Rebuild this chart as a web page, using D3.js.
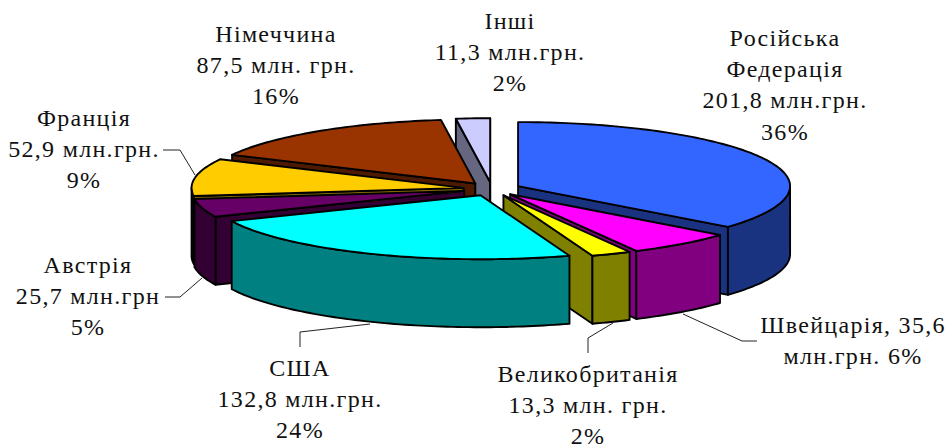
<!DOCTYPE html>
<html>
<head>
<meta charset="utf-8">
<style>
    html, body { margin: 0; padding: 0; background: white; }
    text { font-family: "Liberation Serif", serif; font-size: 24px; letter-spacing: 1.3px; fill: #111; }
</style>
<script src="https://cdn.jsdelivr.net/npm/d3@7"></script>
</head>
<body>
<div id="canvas"></div>
<script>
"use strict"

let svgWidth = 947
let svgHeight = 447

/* Export values, clockwise from 12 o'clock */
let countries = ["Російська Федерація", "Швейцарія", "Великобританія", "США", "Австрія", "Франція", "Німеччина", "Інші"]
let values = [201.8, 35.6, 13.3, 132.8, 25.7, 52.9, 87.5, 11.3]
let topColors = ["#3366ff", "#ff00ff", "#ffff00", "#00ffff", "#660066", "#ffcc00", "#993300", "#ccccff"]
let sideColors = ["#1a3380", "#800080", "#808000", "#008080", "#330033", "#806600", "#4d1a00", "#666680"]
let rimColors = ["#1a3380", "#800080", "#808000", "#008080", "#330033", "#111111", "#4d1a00", "#666680"]
let labelLines = [
    ["Російська", "Федерація", "201,8 млн.грн.", "36%"],
    ["Швейцарія, 35,6", "млн.грн. 6%"],
    ["Великобританія", "13,3 млн. грн.", "2%"],
    ["США", "132,8 млн.грн.", "24%"],
    ["Австрія", "25,7 млн.грн", "5%"],
    ["Франція", "52,9 млн.грн.", "9%"],
    ["Німеччина", "87,5 млн. грн.", "16%"],
    ["Інші", "11,3 млн.грн.", "2%"]
]

/* Pie geometry */
let centerX = 492
let centerY = 189
let radiusX = 272
let radiusY = 64
let depth = 68
let explode = 0.106 // every slice is pulled out by the same amount

/* Label position: centre x and first baseline */
let labelPos = [
    [785, 46], [853, 333], [588, 382], [300, 376], [88, 273], [84, 126], [276, 42], [510, 29]
]
let lineGap = 31.2

/* Leader lines, one per labelled slice that has one */
let leaders = [
    [[683, 314], [742, 341], [757, 341]],
    [[613, 323], [588, 338], [588, 353]],
    [[370, 324], [300, 332], [300, 347]],
    [[202, 278], [180, 297], [165, 297]],
    [[195, 175], [180, 150], [163, 150]]
]

/* back to front */
let drawOrder = [7, 6, 0, 5, 4, 1, 2, 3]

let svg = d3.select("#canvas")
    .append("svg")
    .attr("width", svgWidth)
    .attr("height", svgHeight)
    .style("display", "block")

/* Scales: unit circle to the flattened ellipse */
let xScale = d3.scaleLinear()
    .domain([-1, 1])
    .range([centerX - radiusX, centerX + radiusX])

let yScale = d3.scaleLinear()
    .domain([-1, 1])
    .range([centerY + radiusY, centerY - radiusY]) //flipped for SVG

let pie = d3.pie()
    .sort(null)
    .value(function (d) { return d })

let slices = pie(values)

let line = d3.line()

/* point of a slice at angle a, at distance r from its own apex */
function point(s, a, r, drop) {
    let mid = (s.startAngle + s.endAngle) / 2
    let ux = explode * Math.sin(mid) + r * Math.sin(a)
    let uy = explode * Math.cos(mid) + r * Math.cos(a)
    return [xScale(ux), yScale(uy) + drop]
}

function arcPoints(s, a0, a1, drop) {
    let n = Math.max(2, Math.ceil((a1 - a0) / 0.02))
    return d3.range(n + 1).map(function (i) {
        return point(s, a0 + (a1 - a0) * i / n, 1, drop)
    })
}

function drawShape(pts, fill) {
    svg.append("path")
        .attr("d", line(pts) + "Z")
        .attr("fill", fill)
        .attr("stroke", "black")
        .attr("stroke-width", 1.9)
        .attr("stroke-linejoin", "round")
}

function radialWall(s, a, fill) {
    drawShape([
        point(s, a, 0, 0),
        point(s, a, 1, 0),
        point(s, a, 1, depth),
        point(s, a, 0, depth)
    ], fill)
}

drawOrder.forEach(function (i) {
    let s = slices[i]

    /* cut faces that look towards the viewer */
    if (Math.sin(s.startAngle) < 0) radialWall(s, s.startAngle, sideColors[i])
    if (Math.sin(s.endAngle) > 0) radialWall(s, s.endAngle, sideColors[i])

    /* outer wall, only the front half of the ellipse */
    let a0 = Math.max(s.startAngle, Math.PI / 2)
    let a1 = Math.min(s.endAngle, Math.PI * 3 / 2)
    if (a1 > a0) {
        drawShape(arcPoints(s, a0, a1, 0).concat(arcPoints(s, a0, a1, depth).reverse()), rimColors[i])
    }

    /* top */
    drawShape([point(s, 0, 0, 0)].concat(arcPoints(s, s.startAngle, s.endAngle, 0)), topColors[i])
})

/* Leader lines */
leaders.forEach(function (pts) {
    svg.append("path")
        .attr("d", line(pts))
        .attr("fill", "none")
        .attr("stroke", "#222")
        .attr("stroke-width", 1)
})

/* Labels */
labelLines.forEach(function (lines, i) {
    lines.forEach(function (txt, j) {
        svg.append("text")
            .attr("x", labelPos[i][0])
            .attr("y", labelPos[i][1] + j * lineGap)
            .attr("text-anchor", "middle")
            .text(txt)
    })
})
</script>
</body>
</html>
